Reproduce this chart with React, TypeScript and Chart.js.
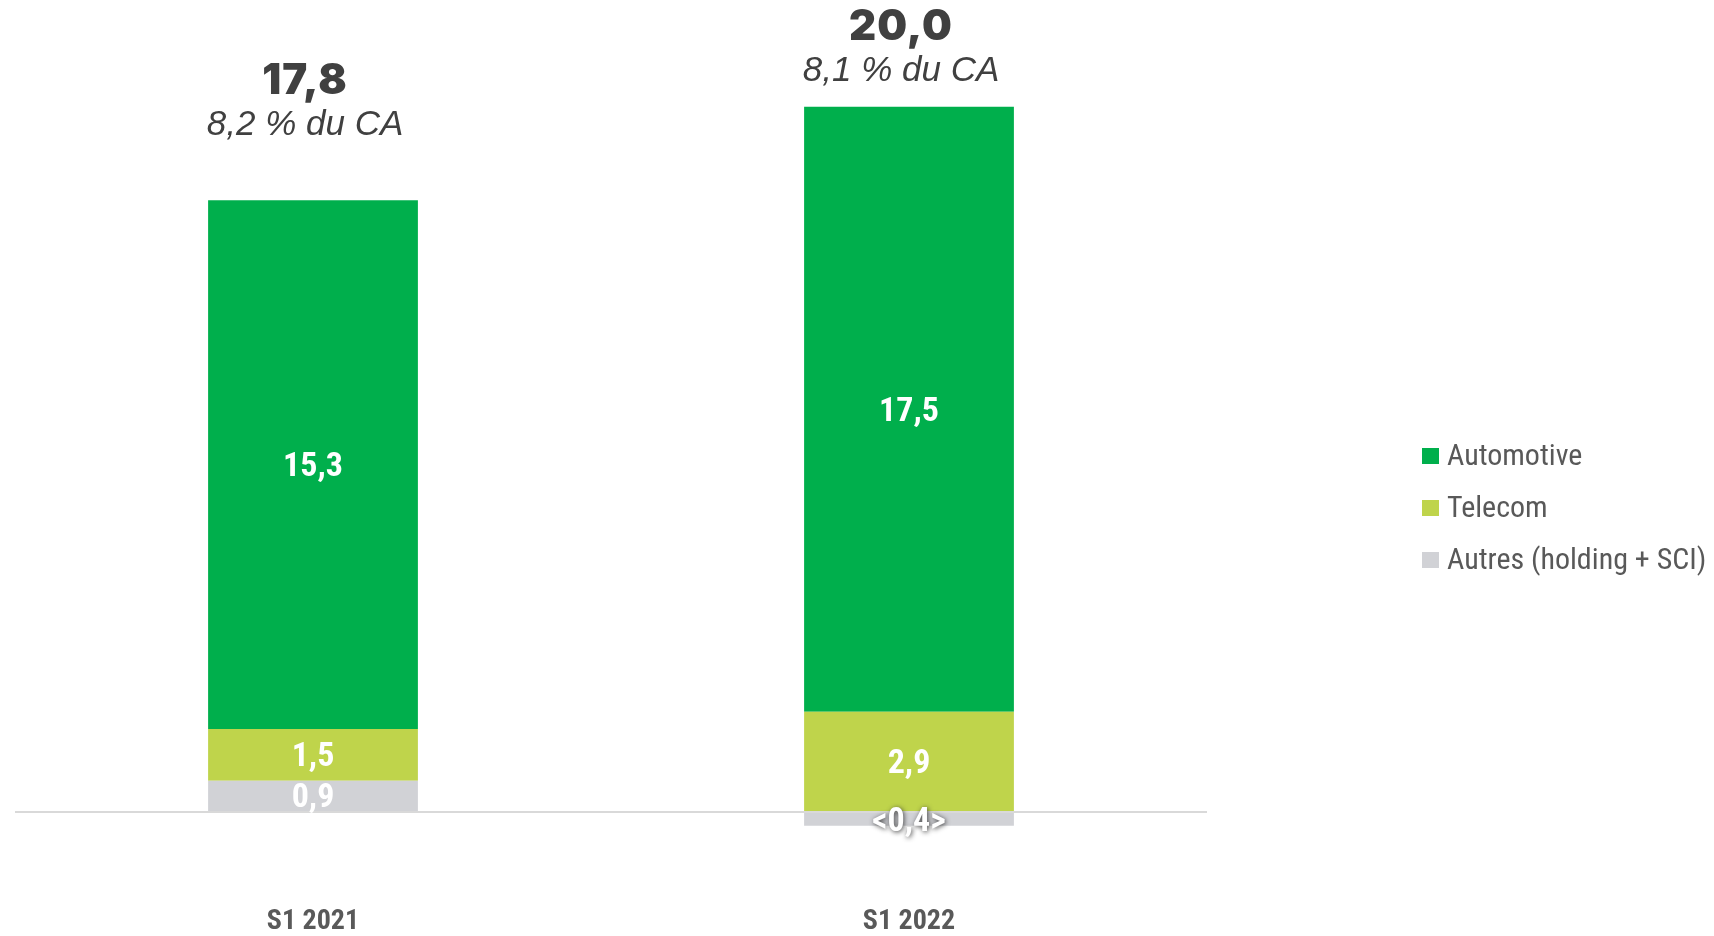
import React, { useEffect, useRef } from "react";
import { Chart, registerables } from "chart.js";

Chart.register(...registerables);

const categories = ["S1 2021", "S1 2022"];
const autres = [0.9, -0.4];
const telecom = [1.5, 2.9];
const automotive = [15.3, 17.5];
const totals = [17.8, 20.0];
const shareOfRevenue = [8.2, 8.1];
const totalLabelLevel = [19.87, 21.44];

const COLORS = {
  automotive: "#00AF4C",
  telecom: "#BFD44B",
  autres: "#D1D2D6",
};

const NARROW = "'Liberation Sans Narrow', 'Arial Narrow', 'Roboto Condensed', sans-serif";

const fmt = (v: number) => {
  const s = Math.abs(v).toFixed(1).replace(".", ",");
  return v < 0 ? `<${s}>` : s;
};

const segmentLabels = {
  id: "segmentLabels",
  afterDatasetsDraw(chart: any) {
    const ctx = chart.ctx;
    ctx.save();
    ctx.font = `bold 34px ${NARROW}`;
    ctx.textAlign = "center";
    ctx.textBaseline = "middle";
    chart.data.datasets.forEach((ds: any, di: number) => {
      const meta = chart.getDatasetMeta(di);
      meta.data.forEach((bar: any, i: number) => {
        const v = ds.data[i];
        const cy = (bar.y + bar.base) / 2;
        ctx.save();
        if (v < 0) {
          ctx.shadowColor = "rgba(50,50,50,0.9)";
          ctx.shadowBlur = 5;
          ctx.shadowOffsetX = 1;
          ctx.shadowOffsetY = 1;
        }
        ctx.fillStyle = "#FFFFFF";
        ctx.fillText(fmt(v), bar.x, cy + 3);
        ctx.restore();
      });
    });
    ctx.restore();
  },
};

const totalLabels = {
  id: "totalLabels",
  afterDatasetsDraw(chart: any) {
    const ctx = chart.ctx;
    const xs = chart.scales.x;
    const ys = chart.scales.y;
    ctx.save();
    ctx.textAlign = "center";
    ctx.textBaseline = "middle";
    ctx.fillStyle = "#404040";
    categories.forEach((_, i) => {
      const x = xs.getPixelForValue(i) - 8;
      const ySub = ys.getPixelForValue(totalLabelLevel[i]);
      ctx.font = `900 42px Inter, 'DejaVu Sans', sans-serif`;
      (ctx as any).letterSpacing = "1px";
      ctx.fillText(totals[i].toFixed(1).replace(".", ","), x, ySub - 44);
      (ctx as any).letterSpacing = "0px";
      ctx.font = `italic 35px 'Liberation Sans', Arial, sans-serif`;
      ctx.fillText(`${shareOfRevenue[i].toFixed(1).replace(".", ",")} % du CA`, x, ySub);
    });
    ctx.restore();
  },
};

const sideLegend = {
  id: "sideLegend",
  afterDraw(chart: any) {
    const ctx = chart.ctx;
    const area = chart.chartArea;
    const left = area.right + 215;
    const rowGap = 52;
    const items = [...chart.data.datasets].reverse();
    const midY = 508;
    const startY = midY - ((items.length - 1) * rowGap) / 2;
    ctx.save();
    ctx.font = `30px ${NARROW}`;
    ctx.textAlign = "left";
    ctx.textBaseline = "middle";
    items.forEach((ds: any, k: number) => {
      const cy = startY + k * rowGap;
      ctx.fillStyle = ds.backgroundColor;
      ctx.fillRect(left, cy - 8, 17, 16);
      ctx.fillStyle = "#595959";
      ctx.fillText(ds.label, left + 25, cy + 1);
    });
    ctx.restore();
  },
};

export default function App() {
  const ref = useRef<HTMLCanvasElement | null>(null);

  useEffect(() => {
    document.body.style.margin = "0";
    const canvas = ref.current;
    if (!canvas) return;
    const chart = new Chart(canvas, {
      type: "bar",
      data: {
        labels: categories,
        datasets: [
          { label: "Autres (holding + SCI)", data: autres, backgroundColor: COLORS.autres },
          { label: "Telecom", data: telecom, backgroundColor: COLORS.telecom },
          { label: "Automotive", data: automotive, backgroundColor: COLORS.automotive },
        ],
      },
      options: {
        responsive: false,
        animation: false,
        events: [],
        layout: { padding: { left: 15, right: 507, top: 17, bottom: 1 } },
        datasets: { bar: { barPercentage: 0.352, categoryPercentage: 1 } } as any,
        plugins: {
          legend: { display: false },
          tooltip: { enabled: false },
          title: { display: false },
        },
        scales: {
          x: {
            stacked: true,
            grid: { display: false, drawTicks: false },
            border: { display: false },
            afterFit: (scale: any) => {
              scale.height = 54;
            },
            ticks: {
              color: "#595959",
              padding: 27,
              font: { family: NARROW, size: 28, weight: "bold", lineHeight: 1 },
            },
          },
          y: {
            stacked: true,
            min: -2,
            max: 23,
            border: { display: false },
            ticks: { display: false, stepSize: 1 },
            grid: {
              drawTicks: false,
              lineWidth: 2,
              color: (c: any) => (c.tick && c.tick.value === 0 ? "#D9D9D9" : "rgba(0,0,0,0)"),
            },
          },
        },
      },
      plugins: [segmentLabels, totalLabels, sideLegend],
    });
    return () => chart.destroy();
  }, []);

  return (
    <div style={{ width: 1714, height: 936 }}>
      <canvas ref={ref} width={1714} height={936} style={{ display: "block" }} />
    </div>
  );
}
